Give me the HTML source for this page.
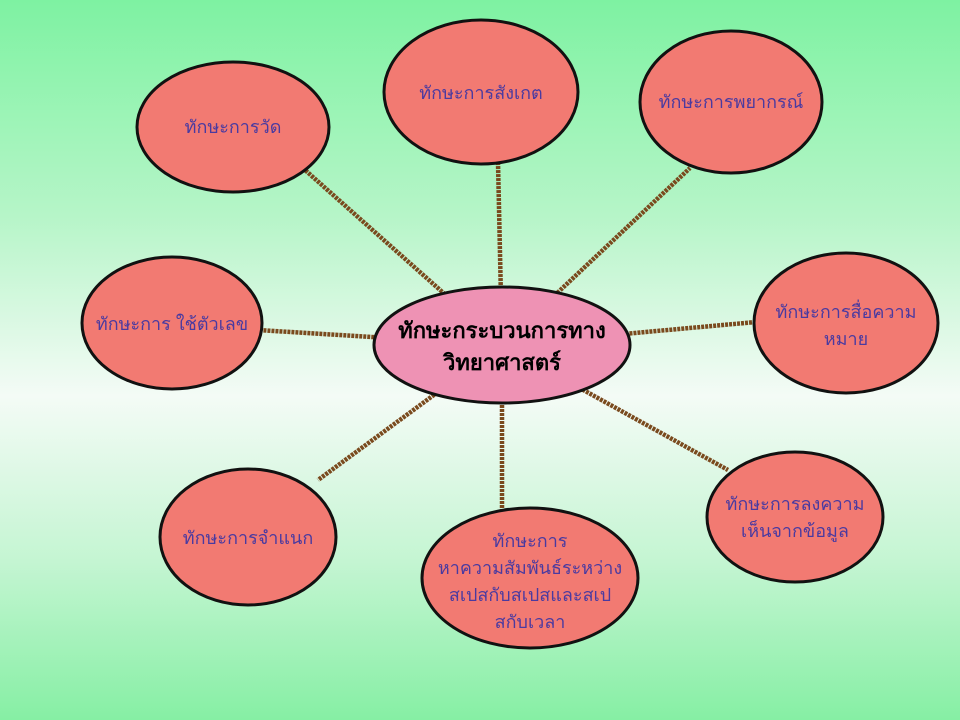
<!DOCTYPE html>
<html><head><meta charset="utf-8"><style>
html,body{margin:0;padding:0;width:960px;height:720px;overflow:hidden}
body{background:linear-gradient(180deg,#7ef2a2 0%,#b6f5c8 30%,#f4fbf6 55%,#c4f5d2 78%,#86efa4 100%)}
svg{display:block}
text{font-family:"Liberation Sans","DejaVu Sans",sans-serif;fill:#4a3aa0;font-size:18px;text-anchor:middle}
.c{fill:#000;font-size:22px;font-weight:bold}
</style></head><body>
<svg width="960" height="720" viewBox="0 0 960 720">
<g stroke="#7a4a1e" stroke-width="4.5" stroke-dasharray="3 1">
<line x1="502" y1="345" x2="305" y2="170"/>
<line x1="502" y1="345" x2="498" y2="162"/>
<line x1="502" y1="345" x2="690" y2="168"/>
<line x1="502" y1="345" x2="258" y2="330"/>
<line x1="502" y1="345" x2="756" y2="322"/>
<line x1="502" y1="345" x2="318" y2="480"/>
<line x1="502" y1="345" x2="502" y2="510"/>
<line x1="502" y1="345" x2="728" y2="470"/>
</g>
<g fill="#f27a72" stroke="#111" stroke-width="3">
<ellipse cx="233" cy="127" rx="96" ry="65"/>
<ellipse cx="481" cy="92" rx="97" ry="72"/>
<ellipse cx="731" cy="102" rx="91" ry="71"/>
<ellipse cx="172" cy="323" rx="90" ry="66"/>
<ellipse cx="846" cy="323" rx="92" ry="70"/>
<ellipse cx="248" cy="537" rx="88" ry="68"/>
<ellipse cx="530" cy="578" rx="108" ry="70"/>
<ellipse cx="795" cy="517" rx="88" ry="65"/>
<ellipse cx="502" cy="345" rx="128" ry="58" fill="#ee92b4"/>
</g>
<text class="c" x="502" y="338">ทักษะกระบวนการทาง</text>
<text class="c" x="502" y="370">วิทยาศาสตร์</text>
<text x="233" y="133">ทักษะการวัด</text>
<text x="481" y="99">ทักษะการสังเกต</text>
<text x="731" y="108">ทักษะการพยากรณ์</text>
<text x="172" y="330">ทักษะการ ใช้ตัวเลข</text>
<text x="846" y="318">ทักษะการสื่อความ</text>
<text x="846" y="345">หมาย</text>
<text x="248" y="544">ทักษะการจำแนก</text>
<text x="530" y="547">ทักษะการ</text>
<text x="530" y="574">หาความสัมพันธ์ระหว่าง</text>
<text x="530" y="601">สเปสกับสเปสและสเป</text>
<text x="530" y="628">สกับเวลา</text>
<text x="795" y="510">ทักษะการลงความ</text>
<text x="795" y="537">เห็นจากข้อมูล</text>
</svg>
</body></html>
